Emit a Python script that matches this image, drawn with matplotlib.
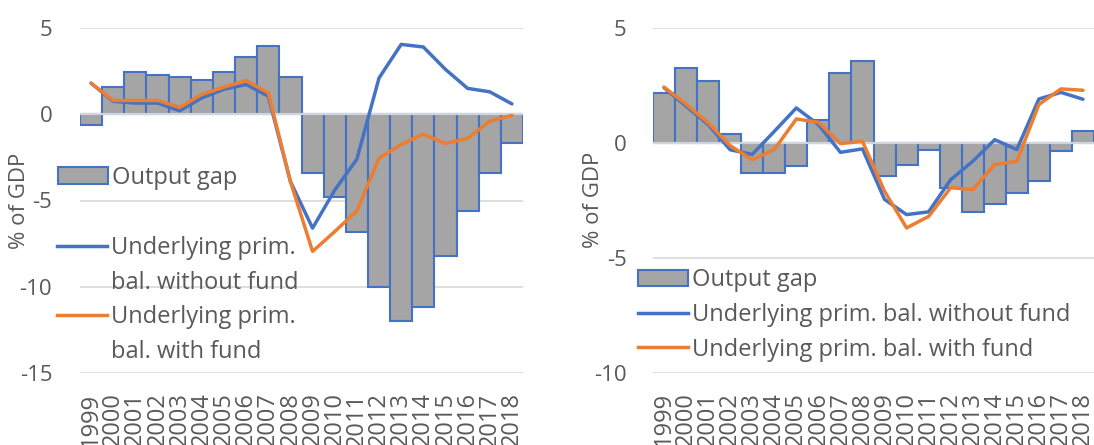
import matplotlib
matplotlib.use("Agg")
import matplotlib.pyplot as plt
import numpy as np
from matplotlib.lines import Line2D
from matplotlib.patches import Patch

years = [str(y) for y in range(1999, 2019)]

# left panel
gap_left = [-0.6, 1.6, 2.45, 2.3, 2.15, 2.0, 2.45, 3.3, 3.95, 2.15,
            -3.4, -4.8, -6.85, -10.0, -12.0, -11.15, -8.2, -5.6, -3.4, -1.65]
without_left = [1.8, 0.75, 0.65, 0.65, 0.2, 0.95, 1.45, 1.72, 1.05, -3.9,
                -6.6, -4.4, -2.6, 2.1, 4.05, 3.9, 2.6, 1.5, 1.3, 0.6]
with_left = [1.8, 0.8, 0.8, 0.8, 0.4, 1.15, 1.57, 1.95, 1.24, -3.9,
             -7.95, -6.8, -5.6, -2.55, -1.75, -1.15, -1.7, -1.4, -0.4, -0.07]

# right panel
gap_right = [2.15, 3.25, 2.7, 0.4, -1.3, -1.3, -1.0, 0.98, 3.05, 3.58,
             -1.42, -0.97, -0.32, -1.95, -3.0, -2.68, -2.17, -1.67, -0.36, 0.53]
without_right = [2.4, 1.6, 0.8, -0.3, -0.5, 0.5, 1.52, 0.8, -0.41, -0.26,
                 -2.46, -3.12, -3.0, -1.6, -0.8, 0.14, -0.29, 1.91, 2.2, 1.9]
with_right = [2.43, 1.68, 0.87, -0.12, -0.73, -0.29, 1.04, 0.9, -0.03, 0.07,
              -2.1, -3.7, -3.2, -1.95, -2.03, -0.94, -0.8, 1.67, 2.35, 2.29]

GREY = "#A5A5A5"
BLUE = "#4472C4"
ORANGE = "#ED7D31"
TEXT = "#595959"

plt.rcParams["font.family"] = ["Open Sans", "DejaVu Sans"]
plt.rcParams["text.color"] = TEXT
plt.rcParams["axes.unicode_minus"] = False


def panel(ax, gap, without, with_, ylim, yticks, pad):
    x = np.arange(len(years))
    ax.bar(x, gap, width=1.0, color=GREY, edgecolor=BLUE, linewidth=1.5, zorder=2)
    ax.axhline(0, color="#D0D4DC", lw=1.6, zorder=2.5)
    ax.plot(x, without, color=BLUE, lw=2.5, zorder=3, solid_capstyle="round")
    ax.plot(x, with_, color=ORANGE, lw=2.5, zorder=4, solid_capstyle="round")
    ax.set_xlim(-0.5, len(years) - 0.5)
    ax.set_ylim(*ylim)
    ax.set_yticks(yticks)
    ax.yaxis.grid(True, color="#D9D9D9", lw=1.2)
    ax.set_axisbelow(True)
    for s in ax.spines.values():
        s.set_visible(False)
    ax.set_xticks(x)
    ax.set_xticklabels(years, rotation=90, va="top", ha="center", fontsize=17)
    ax.tick_params(axis="both", length=0, labelcolor=TEXT)
    ax.tick_params(axis="y", labelsize=16, pad=pad)
    ax.tick_params(axis="x", pad=14)
    ax.set_ylabel("% of GDP", fontsize=16, color=TEXT)


fig = plt.figure(figsize=(10.94, 4.45), dpi=100)
axL = fig.add_axes([80 / 1094, 72 / 445, 443 / 1094, 345 / 445])
axR = fig.add_axes([653 / 1094, 72.3 / 445, 441 / 1094, 344.7 / 445])

panel(axL, gap_left, without_left, with_left, (-15, 5), [5, 0, -5, -10, -15], 20)
panel(axR, gap_right, without_right, with_right, (-10, 5), [5, 0, -5, -10], 19)
axL.yaxis.set_label_coords(-0.112, 0.5)
axR.yaxis.set_label_coords(-0.11, 0.5)

bar_h = Patch(facecolor=GREY, edgecolor=BLUE, linewidth=1.5)
blue_h = Line2D([], [], color=BLUE, lw=2.5)
orange_h = Line2D([], [], color=ORANGE, lw=2.5)
blank = Line2D([], [], color="none")

common = dict(frameon=False, fontsize=17, borderpad=0, borderaxespad=0, handlelength=2.1,
              handletextpad=0.2, bbox_transform=fig.transFigure, loc="center left")
leg1 = axL.legend([bar_h], ["Output gap"], bbox_to_anchor=(58 / 1094, 1 - 178 / 445), **common)
axL.add_artist(leg1)
axL.legend([blue_h, blank, orange_h, blank],
           ["Underlying prim.", "bal. without fund", "Underlying prim.", "bal. with fund"],
           labelspacing=0.45, bbox_to_anchor=(57 / 1094, 1 - 300 / 445), **common)

axR.legend([bar_h, blue_h, orange_h],
           ["Output gap", "Underlying prim. bal. without fund", "Underlying prim. bal. with fund"],
           labelspacing=0.45, bbox_to_anchor=(638 / 1094, 1 - 315 / 445), **common)

fig.savefig("out.png", dpi=100)
